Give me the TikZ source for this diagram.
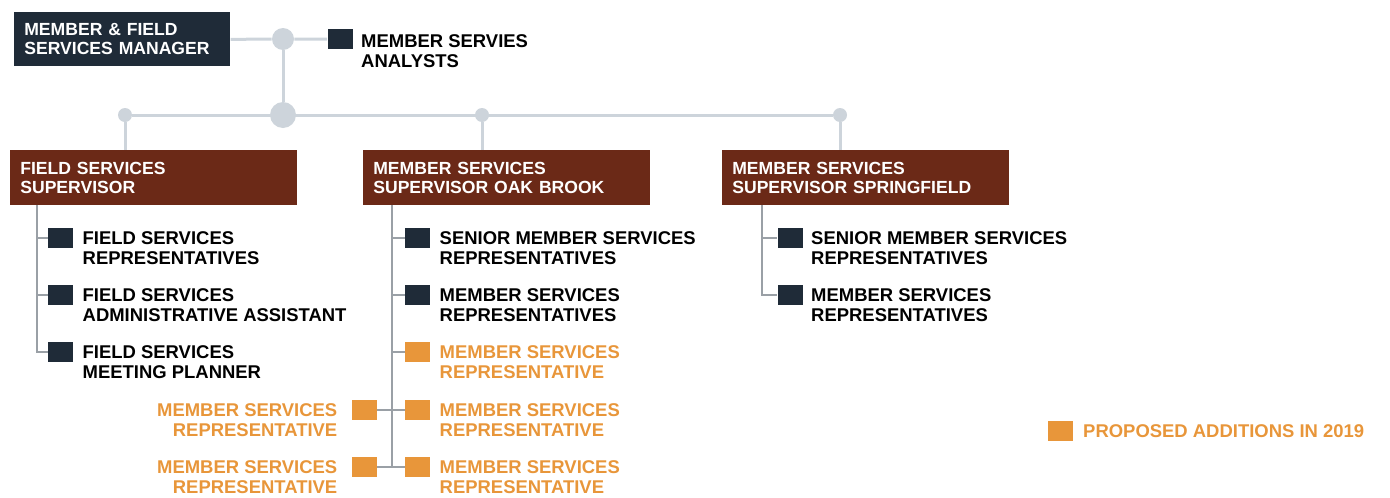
\documentclass[tikz,border=0pt]{standalone}
\usepackage{fontspec}
\setmainfont{Liberation Sans}
\usepackage{xcolor}
\usetikzlibrary{positioning,backgrounds}
\definecolor{navy}{HTML}{1F2B38}
\definecolor{rust}{HTML}{6B2917}
\definecolor{amber}{HTML}{E8963A}
\definecolor{linegray}{HTML}{CDD4DB}
\definecolor{kidgray}{HTML}{9AA0A6}
\tikzset{
  mgrbox/.style={fill=navy,text=white,anchor=north west,inner xsep=2mm,align=left,
    minimum width=43.2mm,minimum height=10.8mm,text width=39.2mm,
    font=\fontsize{10}{10.8}\selectfont\bfseries},
  supbox/.style={fill=rust,text=white,anchor=north west,inner xsep=2mm,align=left,
    minimum width=57.4mm,minimum height=11mm,text width=53.4mm,
    font=\fontsize{10}{10.8}\selectfont\bfseries},
  sq/.style={fill=navy,minimum width=5mm,minimum height=4mm,inner sep=0pt},
  newsq/.style={sq,fill=amber},
  lbl/.style={inner sep=0pt,align=left,font=\fontsize{10.5}{11.4}\selectfont\bfseries},
  newlbl/.style={lbl,text=amber},
  hub/.style={circle,fill=linegray,inner sep=0pt},
  main/.style={draw=linegray,line width=0.6mm},
  kid/.style={draw=kidgray,line width=0.3mm}
}
\begin{document}
\begin{tikzpicture}[x=0.2mm,y=-0.2mm]
\useasboundingbox (0,0) rectangle (1390,497);
% top level
\node[mgrbox] (mgr) at (14,12) {MEMBER \& FIELD\\SERVICES MANAGER};
\node[hub,minimum size=4.4mm] (j1) at (283,39) {};
\node[hub,minimum size=5.2mm] (j2) at (283,115) {};
\node[hub,minimum size=2.8mm] (c1) at (125,115) {};
\node[hub,minimum size=2.8mm] (c2) at (482,115) {};
\node[hub,minimum size=2.8mm] (c3) at (840,115) {};
\node[sq] (anl) at (340,39) {};
\node[lbl,below right=1.2mm and 1.6mm of anl.north east] (anlT) {MEMBER SERVIES\\ANALYSTS};
% supervisors
\node[supbox] (fs) at (10,150) {FIELD SERVICES\\SUPERVISOR};
\node[supbox] (ob) at (363,150) {MEMBER SERVICES\\SUPERVISOR OAK BROOK};
\node[supbox] (sp) at (722,150) {MEMBER SERVICES\\SUPERVISOR SPRINGFIELD};
% field services staff
\node[sq] (fs1) at (60.5,238) {};
\node[sq] (fs2) at (60.5,295) {};
\node[sq] (fs3) at (60.5,352) {};
\node[lbl,below right=0.8mm and 1.8mm of fs1.north east] (fs1T) {FIELD SERVICES\\REPRESENTATIVES};
\node[lbl,below right=0.8mm and 1.8mm of fs2.north east] (fs2T) {FIELD SERVICES\\ADMINISTRATIVE ASSISTANT};
\node[lbl,below right=0.8mm and 1.8mm of fs3.north east] (fs3T) {FIELD SERVICES\\MEETING PLANNER};
% oak brook staff
\node[sq] (ob1) at (417.5,238) {};
\node[sq] (ob2) at (417.5,295) {};
\node[newsq] (ob3) at (417.5,352) {};
\node[newsq] (ob4) at (417.5,410) {};
\node[newsq] (ob5) at (417.5,467) {};
\node[newsq] (ob4l) at (364.5,410) {};
\node[newsq] (ob5l) at (364.5,467) {};
\node[lbl,below right=0.8mm and 1.8mm of ob1.north east] (ob1T) {SENIOR MEMBER SERVICES\\REPRESENTATIVES};
\node[lbl,below right=0.8mm and 1.8mm of ob2.north east] (ob2T) {MEMBER SERVICES\\REPRESENTATIVES};
\node[newlbl,below right=0.8mm and 1.8mm of ob3.north east] (ob3T) {MEMBER SERVICES\\REPRESENTATIVE};
\node[newlbl,below right=0.8mm and 1.8mm of ob4.north east] (ob4T) {MEMBER SERVICES\\REPRESENTATIVE};
\node[newlbl,below right=0.8mm and 1.8mm of ob5.north east] (ob5T) {MEMBER SERVICES\\REPRESENTATIVE};
\node[newlbl,align=right,below left=0.8mm and 2.8mm of ob4l.north west] (ob4lT) {MEMBER SERVICES\\REPRESENTATIVE};
\node[newlbl,align=right,below left=0.8mm and 2.8mm of ob5l.north west] (ob5lT) {MEMBER SERVICES\\REPRESENTATIVE};
% springfield staff
\node[sq] (sp1) at (790,238) {};
\node[sq] (sp2) at (790,295) {};
\node[lbl,below right=0.8mm and 1.6mm of sp1.north east] (sp1T) {SENIOR MEMBER SERVICES\\REPRESENTATIVES};
\node[lbl,below right=0.8mm and 1.6mm of sp2.north east] (sp2T) {MEMBER SERVICES\\REPRESENTATIVES};
% legend
\node[newsq] (key) at (1060,431) {};
\node[newlbl,right=2mm of key] (keyT) {PROPOSED ADDITIONS IN 2019};
% connectors
\coordinate (fsT) at (37,205);
\coordinate (obT) at (392,205);
\coordinate (spT) at (762,205);
\begin{scope}[on background layer]
\draw[main] (mgr.east) -- (j1) -- (anl.west);
\draw[main] (j1) -- (j2);
\draw[main] (c1) -- (c3);
\draw[main] (c1) -- (c1 |- fs.north);
\draw[main] (c2) -- (c2 |- ob.north);
\draw[main] (c3) -- (c3 |- sp.north);
\foreach \k in {fs1,fs2,fs3} \draw[kid] (fsT) |- (\k.west);
\foreach \k in {ob1,ob2,ob3,ob4,ob5} \draw[kid] (obT) |- (\k.west);
\draw[kid] (ob4l.east) -- (ob4.west);
\draw[kid] (ob5l.east) -- (ob5.west);
\foreach \k in {sp1,sp2} \draw[kid] (spT) |- (\k.west);
\end{scope}
\end{tikzpicture}
\end{document}
